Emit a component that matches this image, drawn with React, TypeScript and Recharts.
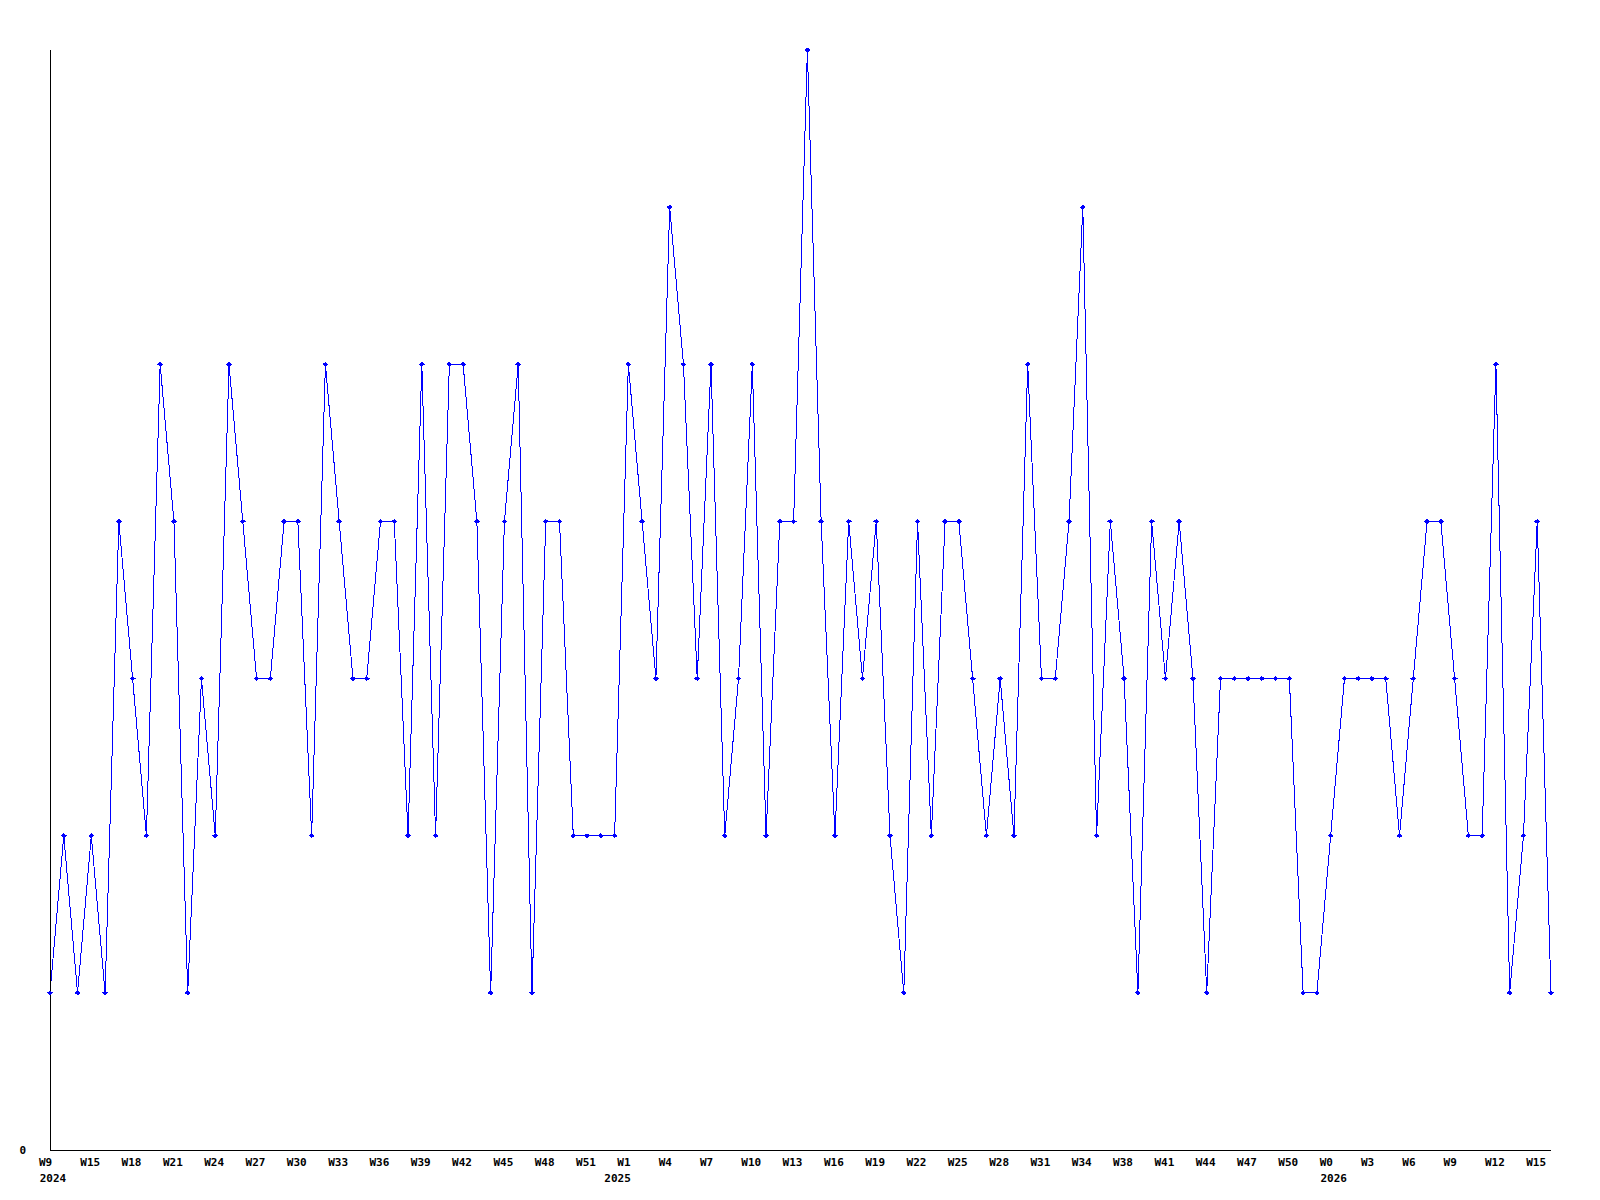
import React from 'react';
import { LineChart, Line, XAxis, YAxis } from 'recharts';

// Week labels per year (categories along the x axis)
const weeks2024 = [
  'W9', 'W13', 'W14', 'W15', 'W16', 'W17', 'W18', 'W19', 'W20', 'W21', 'W22', 'W23', 'W24', 'W25',
  'W26', 'W27', 'W28', 'W29', 'W30', 'W31', 'W32', 'W33', 'W34', 'W35', 'W36', 'W37', 'W38', 'W39',
  'W40', 'W41', 'W42', 'W43', 'W44', 'W45', 'W46', 'W47', 'W48', 'W49', 'W50', 'W51', 'W52',
];
const weeks2025 = [
  'W0', 'W1', 'W2', 'W3', 'W4', 'W5', 'W6', 'W7', 'W8', 'W9', 'W10', 'W11', 'W12', 'W13', 'W14',
  'W15', 'W16', 'W17', 'W18', 'W19', 'W20', 'W21', 'W22', 'W23', 'W24', 'W25', 'W26', 'W27', 'W28',
  'W29', 'W30', 'W31', 'W32', 'W33', 'W34', 'W35', 'W37', 'W38', 'W39', 'W40', 'W41', 'W42', 'W43',
  'W44', 'W45', 'W46', 'W47', 'W48', 'W49', 'W50', 'W51', 'W52',
];
const weeks2026 = [
  'W0', 'W1', 'W2', 'W3', 'W4', 'W5', 'W6', 'W7', 'W8', 'W9', 'W10', 'W11', 'W12', 'W13', 'W14',
  'W15', 'W16',
];
const yearNames = ['2024', '2025', '2026'];

// Weekly counts
const counts = [
  1, 2, 1, 2, 1, 4, 3, 2, 5, 4, 1, 3, 2, 5, 4, 3, 3, 4, 4, 2, 5, 4, 3, 3, 4, 4, 2, 5, 2, 5, 5, 4, 1,
  4, 5, 1, 4, 4, 2, 2, 2, 2, 5, 4, 3, 6, 5, 3, 5, 2, 3, 5, 2, 4, 4, 7, 4, 2, 4, 3, 4, 2, 1, 4, 2, 4,
  4, 3, 2, 3, 2, 5, 3, 3, 4, 6, 2, 4, 3, 1, 4, 3, 4, 3, 1, 3, 3, 3, 3, 3, 3, 1, 1, 2, 3, 3, 3, 3, 2,
  3, 4, 4, 3, 2, 2, 5, 1, 2, 4, 1,
];

const yAxisTicks = [0];
const yDomain = [0, 7];

type Row = { key: string; week: string; year: string; first: boolean; count: number };

const data: Row[] = [];
[weeks2024, weeks2025, weeks2026].forEach((list, yi) => {
  list.forEach((w, j) => {
    data.push({
      key: `${yearNames[yi]}-${w}`,
      week: w,
      year: yearNames[yi],
      first: j === 0,
      count: counts[data.length],
    });
  });
});
const indexByKey: Record<string, number> = {};
data.forEach((d, i) => {
  indexByKey[d.key] = i;
});

const FONT = '"DejaVu Sans Mono", "Liberation Mono", monospace';

const XTick = (props: any) => {
  const { x, y, payload } = props;
  const i = indexByKey[payload.value];
  if (i === undefined) return <g />;
  const row = data[i];
  const showWeek = i % 3 === 0;
  return (
    <g>
      {showWeek && (
        <text x={x - 11} y={y + 16} textAnchor="start" fontFamily={FONT} fontWeight="bold" fontSize={11} fill="#000">
          {row.week}
        </text>
      )}
      {row.first && (
        <text x={x + 3} y={y + 32} textAnchor="middle" fontFamily={FONT} fontWeight="bold" fontSize={11} fill="#000">
          {row.year}
        </text>
      )}
    </g>
  );
};

const YTick = (props: any) => {
  const { x, y, payload } = props;
  return (
    <text x={x - 24} y={y + 4} textAnchor="end" fontFamily={FONT} fontWeight="bold" fontSize={11} fill="#000">
      {payload.value}
    </text>
  );
};

const Dot = (props: any) => {
  const { cx, cy, index } = props;
  if (cx == null || cy == null) return <g key={`d-${index}`} />;
  return (
    <path
      key={`d-${index}`}
      d={`M${cx - 3},${cy} L${cx},${cy - 2.5} L${cx + 3},${cy} L${cx},${cy + 2.5} Z`}
      fill="#0000ff"
      stroke="none"
    />
  );
};

export default function App() {
  return (
    <div style={{ position: 'absolute', left: 0, top: 0, width: 1600, height: 1200, background: '#fff' }}>
      <LineChart
        width={1600}
        height={1200}
        data={data}
        margin={{ top: 50, right: 49, bottom: 49, left: 49 }}
        style={{ shapeRendering: 'crispEdges' }}
      >
        <XAxis
          dataKey="key"
          interval={0}
          height={1}
          tickSize={0}
          tickMargin={0}
          tickLine={false}
          axisLine={{ stroke: '#000', strokeWidth: 1 }}
          tick={<XTick />}
        />
        <YAxis
          type="number"
          domain={yDomain}
          ticks={yAxisTicks}
          width={1}
          tickSize={0}
          tickMargin={0}
          tickLine={false}
          axisLine={{ stroke: '#000', strokeWidth: 1 }}
          tick={<YTick />}
        />
        <Line
          type="linear"
          dataKey="count"
          stroke="#0000ff"
          strokeWidth={1}
          dot={Dot}
          activeDot={false}
          isAnimationActive={false}
        />
      </LineChart>
    </div>
  );
}
